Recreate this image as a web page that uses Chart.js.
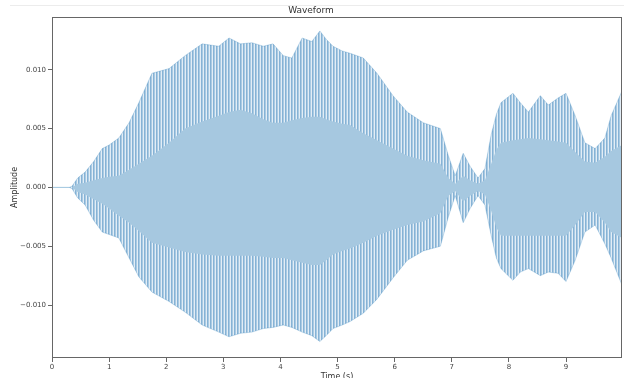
<!DOCTYPE html>
<html>
<head>
<meta charset="utf-8">
<script src="https://cdn.jsdelivr.net/npm/chart.js@4.4.0/dist/chart.umd.min.js"></script>
<style>
  html, body { margin: 0; padding: 0; background: #fff; }
  #wrap { position: relative; width: 624px; height: 378px; }
  #edge { position: absolute; left: 10px; top: 5px; width: 614px; height: 1px; background: #ececec; }
</style>
</head>
<body>
<div id="wrap">
  <canvas id="waveChart" width="624" height="378"></canvas>
  <div id="edge"></div>
</div>
<script>
// time (s) of each envelope reading
const times = [0, 0.3, 0.35, 0.45, 0.58, 0.73, 0.88, 1.0, 1.17, 1.35, 1.52, 1.75, 2.05, 2.33, 2.63, 2.92,
  3.1, 3.3, 3.5, 3.7, 3.87, 4.05, 4.2, 4.38, 4.55, 4.69, 4.8, 4.92, 5.08, 5.22, 5.45, 5.69, 5.97,
  6.22, 6.5, 6.8, 6.94, 7.06, 7.2, 7.32, 7.46, 7.58, 7.69, 7.78, 7.86, 8.07, 8.2, 8.34, 8.55, 8.69,
  8.86, 9.0, 9.16, 9.33, 9.51, 9.68, 9.79, 9.98];

// spike tips (outer envelope)
const peakUpper = [0, 0, 0.0001, 0.0008, 0.0013, 0.0022, 0.0033, 0.0036, 0.0042, 0.0055, 0.0072, 0.0097,
  0.0101, 0.0112, 0.0122, 0.0120, 0.0127, 0.0122, 0.0123, 0.0120, 0.0122, 0.0112, 0.0110, 0.0127,
  0.0124, 0.0133, 0.0126, 0.0120, 0.0116, 0.0114, 0.0110, 0.0097, 0.0078, 0.0064, 0.0055, 0.0050,
  0.0027, 0.0010, 0.0029, 0.0018, 0.0008, 0.0016, 0.0045, 0.0062, 0.0072, 0.0080, 0.0072, 0.0064,
  0.0078, 0.0070, 0.0076, 0.0080, 0.0061, 0.0038, 0.0033, 0.0042, 0.0061, 0.0082];
const peakLower = [0, 0, -0.0001, -0.0009, -0.0015, -0.0028, -0.0038, -0.0040, -0.0043, -0.0060, -0.0076,
  -0.0089, -0.0097, -0.0106, -0.0117, -0.0123, -0.0127, -0.0124, -0.0123, -0.0120, -0.0119, -0.0117,
  -0.0119, -0.0123, -0.0126, -0.0131, -0.0126, -0.0120, -0.0117, -0.0114, -0.0107, -0.0095, -0.0077,
  -0.0062, -0.0054, -0.0050, -0.0025, -0.0007, -0.0030, -0.0018, -0.0007, -0.0015, -0.0041, -0.0060,
  -0.0069, -0.0079, -0.0072, -0.0069, -0.0075, -0.0072, -0.0073, -0.0080, -0.0062, -0.0038, -0.0032,
  -0.0048, -0.0060, -0.0083];

// solid body of the signal (inner envelope)
const bodyUpper = [0, 0, 0, 0.0003, 0.0004, 0.0006, 0.0008, 0.0009, 0.0010, 0.0015, 0.0020, 0.0027,
  0.0038, 0.0050, 0.0056, 0.0061, 0.0064, 0.0066, 0.0063, 0.0058, 0.0055, 0.0055, 0.0057, 0.0059,
  0.0060, 0.0060, 0.0058, 0.0056, 0.0054, 0.0053, 0.0046, 0.0040, 0.0033, 0.0027, 0.0023, 0.0020,
  0.0008, 0.0003, 0.0010, 0.0006, 0.0003, 0.0006, 0.0020, 0.0032, 0.0038, 0.0040, 0.0041, 0.0042,
  0.0041, 0.0040, 0.0039, 0.0038, 0.0030, 0.0022, 0.0021, 0.0026, 0.0031, 0.0036];
const bodyLower = [0, 0, 0, -0.0004, -0.0006, -0.0010, -0.0014, -0.0018, -0.0024, -0.0030, -0.0037,
  -0.0047, -0.0051, -0.0055, -0.0057, -0.0058, -0.0058, -0.0058, -0.0058, -0.0059, -0.0060, -0.0060,
  -0.0062, -0.0064, -0.0066, -0.0066, -0.0062, -0.0057, -0.0054, -0.0052, -0.0047, -0.0041, -0.0036,
  -0.0032, -0.0029, -0.0022, -0.0007, -0.0003, -0.0012, -0.0007, -0.0003, -0.0006, -0.0020, -0.0034,
  -0.0041, -0.0041, -0.0041, -0.0041, -0.0041, -0.0041, -0.0041, -0.0041, -0.0032, -0.0021, -0.0021,
  -0.0030, -0.0038, -0.0043];

const xTicks = [0, 1, 2, 3, 4, 5, 6, 7, 8, 9];
const yTicks = [-0.010, -0.005, 0.000, 0.005, 0.010];

const pts = arr => arr.map((v, i) => ({ x: times[i], y: v }));

// vertical stripe texture for the spiky part of the waveform
const stripe = document.createElement('canvas');
stripe.width = 3; stripe.height = 1;
const sctx = stripe.getContext('2d');
sctx.fillStyle = 'rgb(134,178,213)'; sctx.fillRect(0, 0, 1, 1);
sctx.fillStyle = 'rgb(170,203,227)'; sctx.fillRect(1, 0, 1, 1);
sctx.fillStyle = 'rgb(226,237,246)'; sctx.fillRect(2, 0, 1, 1);

const ctx = document.getElementById('waveChart').getContext('2d');
const spikes = ctx.createPattern(stripe, 'repeat');

const frame = {
  id: 'frame',
  afterDraw(chart) {
    const { ctx, chartArea: a } = chart;
    ctx.save();
    ctx.strokeStyle = '#666';
    ctx.lineWidth = 1;
    ctx.strokeRect(Math.round(a.left) + 0.5, Math.round(a.top) + 0.5,
      Math.round(a.right - a.left) - 1, Math.round(a.bottom - a.top) - 1);
    ctx.restore();
  }
};

const tickFont = { family: 'DejaVu Sans', size: 7 };

new Chart(ctx, {
  type: 'line',
  data: {
    datasets: [
      { data: pts(bodyUpper), borderWidth: 0, pointRadius: 0, fill: false },
      { data: pts(bodyLower), borderWidth: 0, pointRadius: 0, fill: '-1',
        backgroundColor: 'rgb(166,200,224)' },
      { data: pts(peakUpper), borderWidth: 0.8, borderColor: 'rgba(31,119,180,0.3)',
        pointRadius: 0, fill: false },
      { data: pts(peakLower), borderWidth: 0.8, borderColor: 'rgba(31,119,180,0.3)',
        pointRadius: 0, fill: '-1', backgroundColor: spikes }
    ]
  },
  options: {
    responsive: false,
    animation: false,
    layout: { padding: { left: 0, right: 2, top: 0, bottom: 0 } },
    elements: { line: { tension: 0 } },
    plugins: {
      legend: { display: false },
      tooltip: { enabled: false },
      title: {
        display: true,
        text: 'Waveform',
        color: '#333',
        font: { family: 'DejaVu Sans', size: 9, weight: 'normal' },
        padding: { top: 5, bottom: 1 }
      }
    },
    scales: {
      x: {
        type: 'linear',
        min: 0,
        max: 9.98,
        afterFit: s => { s.height = 20; },
        afterBuildTicks: s => { s.ticks = xTicks.map(v => ({ value: v })); },
        ticks: { font: tickFont, color: '#444', padding: 1, maxRotation: 0,
          callback: v => String(v) },
        grid: { drawOnChartArea: false, drawTicks: true, tickLength: 4, color: '#666' },
        border: { display: false },
        title: { display: true, text: 'Time (s)', color: '#333',
          font: { family: 'DejaVu Sans', size: 8 }, padding: { top: 0, bottom: -4 } }
      },
      y: {
        min: -0.0145,
        max: 0.0145,
        afterFit: s => { s.width = 52; },
        afterBuildTicks: s => { s.ticks = yTicks.map(v => ({ value: v })); },
        ticks: { font: tickFont, color: '#444', padding: 2,
          callback: v => v.toFixed(3).replace('-', '\u2212') },
        grid: { drawOnChartArea: false, drawTicks: true, tickLength: 4, color: '#666' },
        border: { display: false },
        title: { display: true, text: 'Amplitude', color: '#333',
          font: { family: 'DejaVu Sans', size: 8 }, padding: { top: 10, bottom: 0 } }
      }
    }
  },
  plugins: [frame]
});
</script>
</body>
</html>
